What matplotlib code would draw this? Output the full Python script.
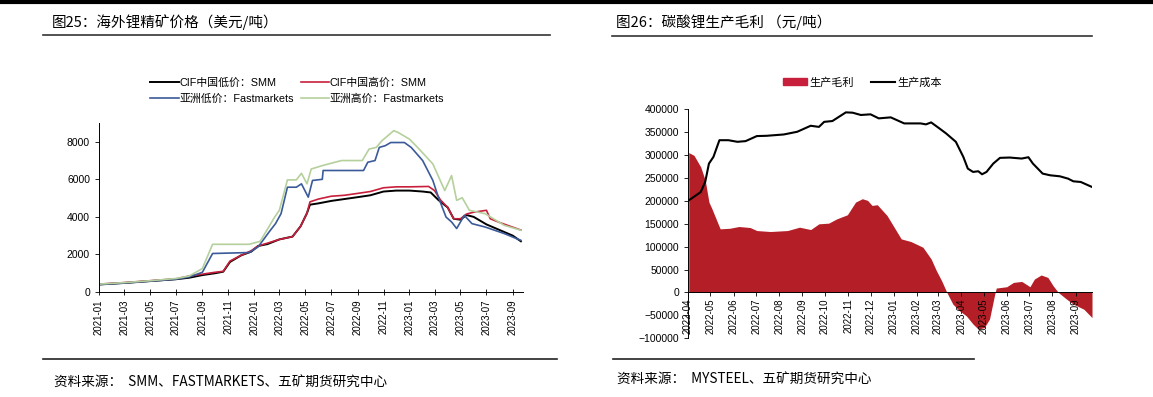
import numpy as np
import pandas as pd
import matplotlib
matplotlib.use("Agg")
import matplotlib.pyplot as plt
import matplotlib.dates as mdates
from matplotlib.patches import Patch
from matplotlib.lines import Line2D

plt.rcParams['font.family'] = ['Liberation Sans', 'Noto Sans CJK SC', 'DejaVu Sans']

# ---- figure 25: overseas spodumene prices (USD/t) ----
cif_low_dates = ["2021-01-01", "2021-03-01", "2021-05-01", "2021-07-01", "2021-08-01", "2021-09-01",
                 "2021-10-01", "2021-10-20", "2021-11-05", "2021-12-01", "2021-12-25", "2022-01-10",
                 "2022-02-01", "2022-03-01", "2022-04-01", "2022-04-20", "2022-05-05", "2022-05-12",
                 "2022-06-01", "2022-07-01", "2022-08-01", "2022-09-01", "2022-10-01", "2022-11-01",
                 "2022-12-01", "2023-01-01", "2023-02-01", "2023-02-20", "2023-03-10", "2023-04-01",
                 "2023-04-15", "2023-05-01", "2023-05-15", "2023-06-01", "2023-07-01", "2023-08-01",
                 "2023-09-01", "2023-09-20"]
cif_low = [400, 480, 580, 680, 760, 900, 1000, 1080, 1600, 1950, 2150, 2450,
           2550, 2800, 2950, 3500, 4200, 4650, 4720, 4850, 4950, 5050, 5150, 5350,
           5400, 5400, 5350, 5300, 4900, 4500, 3900, 3850, 4100, 4000, 3600, 3300,
           3000, 2700]

cif_high_dates = ["2021-01-01", "2021-03-01", "2021-05-01", "2021-07-01", "2021-08-01", "2021-09-01",
                  "2021-10-01", "2021-10-20", "2021-11-05", "2021-12-01", "2021-12-25", "2022-01-10",
                  "2022-02-01", "2022-03-01", "2022-04-01", "2022-04-20", "2022-05-05", "2022-05-12",
                  "2022-06-01", "2022-07-01", "2022-08-01", "2022-09-01", "2022-10-01", "2022-11-01",
                  "2022-12-01", "2023-01-01", "2023-02-15", "2023-03-01", "2023-03-15", "2023-04-01",
                  "2023-04-15", "2023-05-01", "2023-05-15", "2023-06-01", "2023-07-01", "2023-07-10",
                  "2023-08-01", "2023-09-01", "2023-09-20"]
cif_high = [420, 500, 600, 700, 850, 950, 1050, 1100, 1650, 1950, 2200, 2450,
            2600, 2800, 2950, 3500, 4200, 4800, 4950, 5100, 5150, 5250, 5350, 5550,
            5600, 5600, 5620, 5400, 4900, 4500, 3900, 3900, 4150, 4250, 4350, 3900,
            3700, 3450, 3300]

asia_low_dates = ["2021-01-01", "2021-03-01", "2021-05-01", "2021-07-01", "2021-08-01", "2021-09-01",
                  "2021-09-25", "2021-12-20", "2022-01-10", "2022-02-05", "2022-02-20", "2022-03-05",
                  "2022-03-20", "2022-04-10", "2022-04-22", "2022-05-08", "2022-05-18", "2022-06-10",
                  "2022-06-12", "2022-09-15", "2022-09-25", "2022-10-12", "2022-10-22", "2022-11-05",
                  "2022-11-18", "2022-12-20", "2023-01-05", "2023-02-01", "2023-02-25", "2023-03-10",
                  "2023-03-28", "2023-04-10", "2023-04-22", "2023-05-10", "2023-05-28", "2023-06-28",
                  "2023-08-12", "2023-09-20"]
asia_low = [400, 480, 580, 680, 800, 1050, 2050, 2100, 2400, 3200, 3640, 4170,
            5580, 5580, 5760, 5050, 5940, 6000, 6470, 6470, 6910, 7000, 7700, 7790,
            7960, 7960, 7700, 7000, 5940, 5050, 3990, 3730, 3380, 4080, 3640, 3460,
            3110, 2750]

asia_high_dates = ["2021-01-01", "2021-03-01", "2021-05-01", "2021-07-01", "2021-08-01", "2021-09-01",
                   "2021-09-25", "2021-12-20", "2022-01-15", "2022-02-18", "2022-03-01", "2022-03-20",
                   "2022-04-10", "2022-04-22", "2022-05-05", "2022-05-15", "2022-06-10", "2022-07-25",
                   "2022-09-12", "2022-09-28", "2022-10-15", "2022-10-28", "2022-11-25", "2022-12-05",
                   "2023-01-01", "2023-01-20", "2023-02-25", "2023-03-25", "2023-04-10", "2023-04-22",
                   "2023-05-05", "2023-05-22", "2023-06-28", "2023-08-12", "2023-09-20"]
asia_high = [420, 500, 600, 720, 850, 1250, 2540, 2540, 2700, 3990, 4350, 5970,
             5970, 6320, 5760, 6550, 6730, 7000, 7000, 7610, 7700, 8050, 8590, 8500,
             8140, 7700, 6820, 5400, 6200, 4880, 5020, 4350, 4170, 3550, 3290]

left_ticks = pd.date_range("2021-01-01", "2023-09-01", freq="2MS")

# ---- figure 26: lithium carbonate gross margin (CNY/t) ----
margin_dates = ["2022-04-02", "2022-04-09", "2022-04-18", "2022-04-24", "2022-04-29", "2022-05-03",
                "2022-05-14", "2022-05-27", "2022-06-08", "2022-06-23", "2022-07-02", "2022-07-20",
                "2022-08-12", "2022-08-28", "2022-09-12", "2022-09-23", "2022-10-06", "2022-10-17",
                "2022-10-31", "2022-11-11", "2022-11-20", "2022-11-27", "2022-12-03", "2022-12-10",
                "2022-12-23", "2023-01-11", "2023-01-24", "2023-02-09", "2023-02-20", "2023-02-27",
                "2023-03-06", "2023-03-13", "2023-03-21", "2023-03-30", "2023-04-08", "2023-04-17",
                "2023-04-24", "2023-05-02", "2023-05-09", "2023-05-16", "2023-05-18", "2023-06-01",
                "2023-06-10", "2023-06-21", "2023-06-28", "2023-07-02", "2023-07-08", "2023-07-17",
                "2023-07-26", "2023-08-02", "2023-08-09", "2023-08-20", "2023-08-29", "2023-09-12",
                "2023-09-23"]
margin = [305000, 299000, 273700, 244500, 197000, 182500,
          138700, 140000, 143800, 141600, 135000, 132900,
          135000, 142300, 137200, 149700, 151100, 160600,
          169400, 197100, 204400, 200800, 189800, 191300,
          167900, 116800, 111000, 98600, 73000, 47500,
          25600, 0, -25400, -40000, -51000, -69000,
          -80000, -76600, -58000, -3500, 9600, 12500,
          21900, 24100, 16900, 12500, 29300, 38100,
          32800, 14700, 0, -14500, -25400, -36400,
          -54700]

cost_dates = ["2022-04-02", "2022-04-18", "2022-04-24", "2022-04-29", "2022-05-05", "2022-05-13",
              "2022-05-25", "2022-06-06", "2022-06-17", "2022-07-02", "2022-07-15", "2022-08-07",
              "2022-08-25", "2022-09-12", "2022-09-23", "2022-09-30", "2022-10-11", "2022-10-29",
              "2022-11-07", "2022-11-18", "2022-12-01", "2022-12-12", "2022-12-28", "2023-01-15",
              "2023-02-06", "2023-02-13", "2023-02-20", "2023-03-03", "2023-03-12", "2023-03-25",
              "2023-04-04", "2023-04-10", "2023-04-17", "2023-04-24", "2023-04-29", "2023-05-05",
              "2023-05-14", "2023-05-23", "2023-06-05", "2023-06-21", "2023-06-30", "2023-07-06",
              "2023-07-19", "2023-07-29", "2023-08-11", "2023-08-22", "2023-08-29", "2023-09-08",
              "2023-09-23"]
cost = [200750, 219000, 241000, 281000, 295600, 332000,
        332000, 328500, 330000, 341000, 341600, 344500,
        350400, 363500, 361000, 372000, 373800, 392700,
        392000, 387000, 388400, 379600, 381800, 368600,
        368600, 366500, 370800, 357700, 346750, 328500,
        295600, 270100, 262800, 264300, 257700, 262800,
        281000, 293500, 294200, 292000, 294900, 281000,
        259200, 255500, 253300, 248200, 242400, 240900,
        230000]

right_ticks = pd.date_range("2022-04-01", "2023-09-01", freq="MS")

fig = plt.figure(figsize=(11.53, 3.97), dpi=100)

# ---------- left chart ----------
ax1 = fig.add_axes([0.0859, 0.2645, 0.3677, 0.4257])
l1, = ax1.plot(pd.to_datetime(cif_low_dates), cif_low, color="black", lw=1.4, label="CIF中国低价：SMM")
l2, = ax1.plot(pd.to_datetime(cif_high_dates), cif_high, color="#c8203c", lw=1.2, label="CIF中国高价：SMM")
l3, = ax1.plot(pd.to_datetime(asia_low_dates), asia_low, color="#3b5a9a", lw=1.2, label="亚洲低价：Fastmarkets")
l4, = ax1.plot(pd.to_datetime(asia_high_dates), asia_high, color="#b5d09c", lw=1.2, label="亚洲高价：Fastmarkets")
ax1.set_xlim(pd.Timestamp("2021-01-01"), pd.Timestamp("2023-09-25"))
ax1.set_ylim(0, 9000)
ax1.set_yticks([0, 2000, 4000, 6000, 8000])
ax1.set_xticks(left_ticks)
ax1.xaxis.set_major_formatter(mdates.DateFormatter("%Y-%m"))
ax1.tick_params(axis="x", labelrotation=90, labelsize=7, direction="inout", length=4, width=0.6)
ax1.tick_params(axis="y", labelsize=7.5, length=3, width=0.6)
for s in ["top", "right"]:
    ax1.spines[s].set_visible(False)
for s in ["left", "bottom"]:
    ax1.spines[s].set_linewidth(0.7)

# legend fills column-wise, so order handles to get CIF pair on the first row
fig.legend(handles=[l1, l3, l2, l4], loc="center", bbox_to_anchor=(0.258, 0.772), ncol=2,
           frameon=False, fontsize=7.8, handlelength=2.6, handletextpad=0.1,
           columnspacing=0.6, labelspacing=0.55)

# ---------- right chart ----------
ax2 = fig.add_axes([0.5967, 0.1478, 0.3504, 0.5776])
md = pd.to_datetime(margin_dates)
ax2.fill_between(md, 0, margin, color="#b41f27", lw=0)
ax2.plot(pd.to_datetime(cost_dates), cost, color="black", lw=1.5)
ax2.set_xlim(pd.Timestamp("2022-04-01"), pd.Timestamp("2023-09-23"))
ax2.set_ylim(-100000, 400000)
ax2.set_yticks(np.arange(-100000, 400001, 50000))
ax2.set_xticks(right_ticks)
ax2.xaxis.set_major_formatter(mdates.DateFormatter("%Y-%m"))
ax2.spines["bottom"].set_position(("data", 0))
ax2.tick_params(axis="x", labelrotation=90, labelsize=7, length=3, width=0.6, pad=1)
ax2.tick_params(axis="y", labelsize=7.5, length=3, width=0.6)
for s in ["top", "right"]:
    ax2.spines[s].set_visible(False)
for s in ["left", "bottom"]:
    ax2.spines[s].set_linewidth(0.7)

fig.legend(handles=[Patch(color="#c8203c", label="生产毛利"),
                    Line2D([], [], color="black", lw=1.5, label="生产成本")],
           loc="center", bbox_to_anchor=(0.748, 0.793), ncol=2, frameon=False, fontsize=8,
           handlelength=2.2, handleheight=0.6, handletextpad=0.2, columnspacing=1.5)

# ---------- titles, rules and sources ----------
fig.text(0.045, 0.944, "图25：海外锂精矿价格（美元/吨）", fontsize=10.5, va="center",
         family=["Noto Sans CJK SC", "DejaVu Sans"])
fig.text(0.534, 0.944, "图26：碳酸锂生产毛利 （元/吨）", fontsize=10.5, va="center",
         family=["Noto Sans CJK SC", "DejaVu Sans"])
fig.add_artist(Line2D([0.037, 0.477], [0.911, 0.911], color="#333333", lw=1.2))
fig.add_artist(Line2D([0.531, 0.947], [0.909, 0.909], color="#333333", lw=1.2))
fig.add_artist(Line2D([0.037, 0.483], [0.096, 0.096], color="#222222", lw=1.2))
fig.add_artist(Line2D([0.532, 0.845], [0.096, 0.096], color="#222222", lw=1.2))
fig.add_artist(Line2D([0.0, 1.0], [0.996, 0.996], color="black", lw=3))
fig.text(0.047, 0.037, "资料来源：  SMM、FASTMARKETS、五矿期货研究中心", fontsize=9.8, va="center",
         family=["Noto Sans CJK SC", "DejaVu Sans"])
fig.text(0.535, 0.043, "资料来源：  MYSTEEL、五矿期货研究中心", fontsize=9.8, va="center",
         family=["Noto Sans CJK SC", "DejaVu Sans"])

fig.savefig("out.png", dpi=100)
